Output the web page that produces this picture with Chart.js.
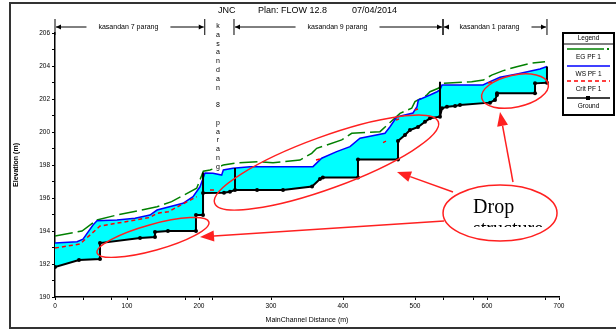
<!DOCTYPE html>
<html>
<head>
<meta charset="utf-8">
<script src="https://cdn.jsdelivr.net/npm/chart.js@4.4.1/dist/chart.umd.min.js"></script>
<style>
  html, body { margin: 0; padding: 0; background: #fff; }
  #wrap { width: 616px; height: 334px; }
</style>
</head>
<body>
<div id="wrap"><canvas id="profile" width="616" height="334"></canvas></div>
<script>
// profile data, main channel distance (m) / elevation (m)
const groundDist = [0, 33.3, 62.5, 62.5, 118.1, 138.9, 138.9, 156.9, 195.8, 195.8, 205.6, 205.6, 234.7, 243, 250, 280.6, 316.7, 357, 368, 372, 420.8, 420.8, 476.4, 476.4, 486.1, 493, 504.2, 513.9, 520.8, 534.7, 537.5, 544.4, 555.6, 562.5, 604.2, 611.1, 613.9, 613.9, 666.7, 666.7, 683.3];
const groundElev = [191.82, 192.24, 192.30, 193.27, 193.58, 193.64, 193.94, 194.0, 194.0, 194.97, 194.97, 196.3, 196.32, 196.38, 196.48, 196.48, 196.48, 196.7, 197.15, 197.24, 197.24, 198.33, 198.33, 199.45, 199.82, 200.12, 200.30, 200.62, 200.83, 200.93, 201.44, 201.53, 201.58, 201.64, 201.78, 201.94, 202.24, 202.35, 202.35, 202.95, 202.99];

const wsDist = [0, 30.6, 38.9, 52.8, 58.3, 86.1, 111.1, 131.9, 141.7, 177.8, 191.7, 201.4, 208.3, 219.4, 231.5, 233.8, 247.2, 270.8, 358.3, 370.4, 391.2, 409.7, 423.6, 458.3, 465.3, 474.6, 497.2, 502.8, 504.6, 520.8, 530.6, 534.7, 537.5, 594.4, 604.2, 618.1, 641.7, 673.6, 683.3];
const wsElev = [193.27, 193.35, 193.50, 194.36, 194.62, 194.67, 194.77, 194.97, 195.27, 195.68, 196.08, 196.68, 197.52, 197.50, 197.39, 197.70, 197.80, 197.90, 197.90, 198.41, 198.81, 199.11, 199.62, 199.92, 200.32, 200.91, 201.15, 201.53, 201.94, 202.24, 202.44, 202.55, 202.85, 202.85, 203.05, 203.32, 203.52, 203.82, 203.97];

const egDist = [0, 37.5, 58.3, 86.1, 106.9, 141.7, 162, 196.8, 206, 215.3, 233.8, 252.4, 284.7, 302.8, 340.3, 356.5, 363.5, 398.2, 412.1, 451.4, 465.3, 479.2, 495.4, 500, 516.3, 520.8, 532.4, 539.3, 578.7, 594.9, 606.5, 622.6, 641.3, 659.7, 680.6];
const egElev = [193.70, 194.0, 194.67, 194.97, 195.15, 195.47, 195.78, 196.59, 197.62, 197.70, 198.0, 198.12, 198.20, 198.14, 198.30, 198.71, 199.01, 199.52, 199.92, 200.02, 200.58, 201.13, 201.44, 201.84, 202.24, 202.44, 202.65, 202.95, 203.05, 203.15, 203.45, 203.72, 203.96, 204.16, 204.26];

// critical depth, only the visible pieces (null = break)
const critDist = [0, 34.7, 62.5, 104.2, 131.9, 141.2, 157.4, 196.8, 198, 215.3, 220.8, 221, 362.5, 368, 369, 455.6, 459.7, 460, 473.6, 477.8, 478, 500, 504.2, 505, 601.4, 606.9];
const critElev = [192.97, 193.21, 194.30, 194.61, 194.82, 195.07, 195.17, 196.08, null, 196.48, 196.48, null, 198.30, 198.36, null, 199.36, 199.45, null, 200.73, 200.79, null, 201.33, 201.39, null, 202.97, 203.03];

// vertical structure / reach end lines
const structDist = [205.6, 205.6, 205.7, 250, 250, 250.1, 534.7, 534.7, 534.8, 683.3, 683.3];
const structElev = [196.3, 197.55, null, 196.48, 197.82, null, 200.93, 203.05, null, 202.99, 203.97];

const xTicks = [0, 100, 200, 300, 400, 500, 600, 700];
const xMinorTicks = [40, 78, 181, 219, 539, 581, 681];

const reachNames = ['kasandan 7 parang', 'kasandan 9 parang', 'kasandan 1 parang'];
const reachBounds = [[0, 208], [248.6, 538.9], [538.9, 683.3]];
const reachLabelAt = [102, 392.4, 603.5];
const junctionName = 'kasandan 8 parang';
const junctionAt = 226.4;

// hand drawn callouts (data coords for anchors)
const calloutEllipses = [
    { x: 136.1, y: 193.61, rx: 58, ry: 13, rot: -15.5 },
    { x: 377.1, y: 198.15, rx: 119, ry: 26, rot: -20 },
    { x: 638.9, y: 202.48, rx: 34, ry: 16, rot: -12 }
];
const bubble = { x: 618.1, y: 195.09, rx: 57, ry: 28 };
const arrows = [
    [540.3, 194.61, 201.4, 193.64],
    [552.8, 196.36, 475.0, 197.58],
    [636.1, 196.97, 618.1, 201.21]
];

function pts(xs, ys) {
    return xs.map((x, i) => ({ x: x, y: ys[i] }));
}

const FONT = 'Liberation Sans, Arial, sans-serif';

const overlay = {
    id: 'overlay',
    afterDraw(chart) {
        const c = chart.ctx;
        const X = v => chart.scales.x.getPixelForValue(v);
        const Y = v => chart.scales.y.getPixelForValue(v);
        c.save();

        // outer frame
        c.strokeStyle = '#333';
        c.lineWidth = 2;
        c.strokeRect(10, 3, 620, 325);

        // header
        c.fillStyle = '#000';
        c.font = '9px ' + FONT;
        c.textBaseline = 'middle';
        c.textAlign = 'left';
        c.fillText('JNC', 218, 11);
        c.fillText('Plan: FLOW 12.8', 258, 11);
        c.fillText('07/04/2014', 352, 11);

        // reach labels
        c.font = '7px ' + FONT;
        c.strokeStyle = '#000';
        c.lineWidth = 1;
        reachBounds.forEach((b, i) => {
            const pL = X(b[0]), pR = X(b[1]), pc = X(reachLabelAt[i]);
            const w = c.measureText(reachNames[i]).width;
            c.textAlign = 'center';
            c.fillText(reachNames[i], pc, 27);
            [pL, pR].forEach(p => {
                c.beginPath(); c.moveTo(p, 19); c.lineTo(p, 35); c.stroke();
            });
            const l1 = pc - w / 2 - 12, r1 = pc + w / 2 + 12;
            if (l1 > pL + 3) {
                c.beginPath(); c.moveTo(pL + 1, 27); c.lineTo(l1, 27); c.stroke();
                c.beginPath(); c.moveTo(pL + 1, 27); c.lineTo(pL + 6, 24.5); c.lineTo(pL + 6, 29.5); c.fill();
            }
            if (r1 < pR - 3) {
                c.beginPath(); c.moveTo(r1, 27); c.lineTo(pR - 1, 27); c.stroke();
                c.beginPath(); c.moveTo(pR - 1, 27); c.lineTo(pR - 6, 24.5); c.lineTo(pR - 6, 29.5); c.fill();
            }
        });

        // vertical junction label
        c.textAlign = 'center';
        const jx = X(junctionAt);
        junctionName.split('').forEach((ch, i) => {
            if (ch === ' ') return;
            const yy = 26 + i * 8.8;
            c.fillStyle = '#fff';
            c.fillRect(jx - 3, yy - 4, 6, 8);
            c.fillStyle = '#000';
            c.fillText(ch, jx, yy);
        });

        // legend box
        c.strokeStyle = '#000';
        c.lineWidth = 2;
        c.strokeRect(563, 33, 51, 82);
        c.lineWidth = 1;
        c.beginPath(); c.moveTo(563, 44); c.lineTo(614, 44); c.stroke();
        c.font = '6.5px ' + FONT;
        c.fillStyle = '#000';
        c.fillText('Legend', 588.5, 38.5);
        const items = [
            { label: 'EG PF 1', color: '#008000', y: 49, dash: [] },
            { label: 'WS PF 1', color: '#0000ff', y: 66, dash: [] },
            { label: 'Crit PF 1', color: '#ff0000', y: 81, dash: [4, 3] },
            { label: 'Ground', color: '#000', y: 98, dash: [] }
        ];
        items.forEach(it => {
            c.strokeStyle = it.color;
            c.lineWidth = 1.5;
            c.setLineDash(it.dash);
            c.beginPath(); c.moveTo(567, it.y); c.lineTo(it.label === 'EG PF 1' ? 604 : 610, it.y); c.stroke();
            c.setLineDash([]);
            c.fillStyle = '#000';
            c.fillText(it.label, 588.5, it.y + 8);
        });
        c.fillStyle = '#008000';
        c.fillRect(607, 48, 2, 2);
        c.fillStyle = '#000';
        c.fillRect(586, 96, 4, 4);

        // callouts
        c.strokeStyle = '#ff2020';
        c.fillStyle = '#ff2020';
        c.lineWidth = 1.5;
        calloutEllipses.forEach(e => {
            c.beginPath();
            c.ellipse(X(e.x), Y(e.y), e.rx, e.ry, e.rot * Math.PI / 180, 0, Math.PI * 2);
            c.stroke();
        });
        arrows.forEach(a => {
            const x0 = X(a[0]), y0 = Y(a[1]), x1 = X(a[2]), y1 = Y(a[3]);
            const ang = Math.atan2(y1 - y0, x1 - x0);
            const L = 14, H = 5.5;
            const bx = x1 - L * Math.cos(ang), by = y1 - L * Math.sin(ang);
            c.beginPath(); c.moveTo(x0, y0); c.lineTo(bx, by); c.stroke();
            c.beginPath();
            c.moveTo(x1, y1);
            c.lineTo(bx + H * Math.sin(ang), by - H * Math.cos(ang));
            c.lineTo(bx - H * Math.sin(ang), by + H * Math.cos(ang));
            c.closePath(); c.fill();
        });
        const bx = X(bubble.x), by = Y(bubble.y);
        c.beginPath();
        c.ellipse(bx, by, bubble.rx, bubble.ry, 0, 0, Math.PI * 2);
        c.fillStyle = '#fff';
        c.fill();
        c.stroke();
        c.fillStyle = '#000';
        c.textAlign = 'left';
        c.textBaseline = 'alphabetic';
        c.font = '20px Liberation Serif, Times New Roman, serif';
        c.fillText('Drop', bx - 27, by);
        c.save();
        c.beginPath(); c.rect(bx - 40, by, 90, 14); c.clip();
        c.fillText('structure', bx - 27, by + 22);
        c.restore();

        c.restore();
    }
};

new Chart(document.getElementById('profile'), {
    type: 'line',
    data: {
        datasets: [
            {
                label: 'Ground',
                data: pts(groundDist, groundElev),
                borderColor: '#000',
                backgroundColor: '#000',
                borderWidth: 2,
                pointRadius: 2,
                pointBackgroundColor: '#000',
                pointBorderWidth: 0,
                fill: false
            },
            {
                label: 'Structure',
                data: pts(structDist, structElev),
                borderColor: '#000',
                borderWidth: 2,
                pointRadius: 0,
                spanGaps: false,
                fill: false
            },
            {
                label: 'Crit PF 1',
                data: pts(critDist, critElev),
                borderColor: '#ff0000',
                borderWidth: 1.5,
                borderDash: [4, 3],
                pointRadius: 0,
                spanGaps: false,
                fill: false
            },
            {
                label: 'WS PF 1',
                data: pts(wsDist, wsElev),
                borderColor: '#0000ff',
                backgroundColor: '#00ffff',
                borderWidth: 1.5,
                pointRadius: 0,
                fill: 0
            },
            {
                label: 'EG PF 1',
                data: pts(egDist, egElev),
                borderColor: '#008000',
                borderWidth: 1.5,
                borderDash: [18, 5],
                pointRadius: 0,
                fill: false
            }
        ]
    },
    options: {
        responsive: false,
        animation: false,
        devicePixelRatio: 1,
        layout: { padding: { left: 10, right: 57, top: 33, bottom: 8 } },
        plugins: {
            legend: { display: false },
            tooltip: { enabled: false },
            filler: { propagate: false }
        },
        elements: { line: { tension: 0 } },
        scales: {
            x: {
                type: 'linear',
                min: 0,
                max: 700,
                afterBuildTicks: scale => {
                    scale.ticks = xTicks.concat(xMinorTicks).sort((a, b) => a - b).map(v => ({ value: v }));
                },
                afterFit: scale => { scale.height = 29; },
                ticks: {
                    color: '#000',
                    font: { family: FONT, size: 6.5 },
                    padding: 2,
                    maxRotation: 0,
                    autoSkip: false,
                    callback: v => (xTicks.includes(v) ? String(v) : '')
                },
                grid: { drawOnChartArea: false, drawTicks: true, tickLength: 3, color: '#000' },
                border: { color: '#000', width: 1.5 },
                title: {
                    display: true,
                    text: 'MainChannel Distance (m)',
                    color: '#000',
                    font: { family: FONT, size: 7 },
                    padding: { top: 0, bottom: 2 }
                }
            },
            y: {
                min: 190,
                max: 206,
                afterFit: scale => { scale.width = 45; },
                ticks: {
                    stepSize: 1,
                    color: '#000',
                    font: { family: FONT, size: 6.5 },
                    padding: 2,
                    callback: v => (v % 2 === 0 ? String(v) : '')
                },
                grid: { drawOnChartArea: false, drawTicks: true, tickLength: 3, color: '#000' },
                border: { color: '#000', width: 1.5 },
                title: {
                    display: true,
                    text: 'Elevation (m)',
                    color: '#000',
                    font: { family: FONT, size: 7, weight: 'bold' },
                    padding: { top: 2, bottom: 0 }
                }
            }
        }
    },
    plugins: [overlay]
});
</script>
</body>
</html>
